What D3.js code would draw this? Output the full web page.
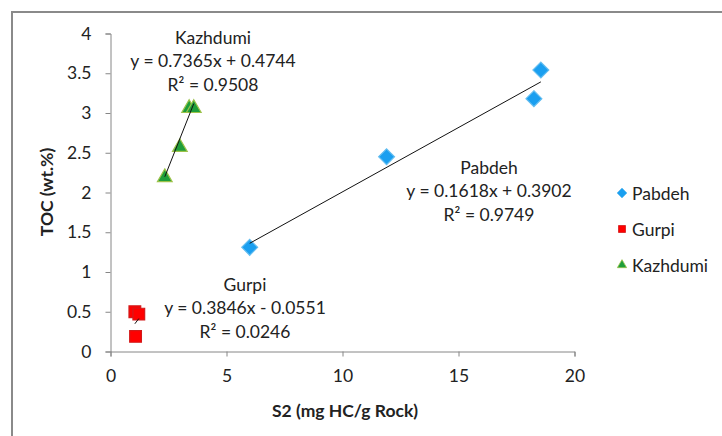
<!DOCTYPE html>
<html>
<head>
<meta charset="utf-8">
<script src="https://cdn.jsdelivr.net/npm/d3@7"></script>
<style>
  html, body { margin: 0; padding: 0; background: #fff; }
  svg text { font-family: Lato, "Open Sans", sans-serif; fill: #222; }
</style>
</head>
<body>
<svg id="chart" width="722" height="436"></svg>
<script>
// Sample values: S2 (mg HC/g Rock) vs TOC (wt.%)
const pabdehS2  = [6.0, 11.9, 18.25, 18.55];
const pabdehTOC = [1.31, 2.45, 3.18, 3.54];
const gurpiS2   = [1.05, 1.22, 1.08];
const gurpiTOC  = [0.50, 0.47, 0.19];
const kazhS2    = [2.34, 2.99, 3.39, 3.59];
const kazhTOC   = [2.19, 2.57, 3.06, 3.06];

// Linear trendlines: [slope, intercept, R²]
const pabdehFit = [0.1618, 0.3902, 0.9749];
const gurpiFit  = [0.3846, -0.0551, 0.0246];
const kazhFit   = [0.7365, 0.4744, 0.9508];

const xTicks = [0, 5, 10, 15, 20];
const yTicks = [0, 0.5, 1, 1.5, 2, 2.5, 3, 3.5, 4];
const seriesNames = ["Pabdeh", "Gurpi", "Kazhdumi"];

const svg = d3.select("#chart");
const x = d3.scaleLinear().domain([0, 20]).range([110.5, 574.5]);
const y = d3.scaleLinear().domain([0, 4]).range([351.5, 33.5]);
const fs = 17.5;

// outer chart frame (top and left edges visible)
svg.append("path")
  .attr("d", "M12,436 L12,12 L722,12")
  .attr("fill", "none").attr("stroke", "#8a8a8a").attr("stroke-width", 2);

const axisColor = "#868686";
const xAxis = svg.append("g").attr("transform", `translate(0,${y(0)})`)
  .call(d3.axisBottom(x).tickValues(xTicks).tickSize(5).tickPadding(13).tickFormat(d3.format("d")));
const yAxis = svg.append("g").attr("transform", `translate(${x(0)},0)`)
  .call(d3.axisLeft(y).tickValues(yTicks).tickSize(5).tickPadding(14).tickFormat(d => String(d)));
[xAxis, yAxis].forEach(g => {
  g.select(".domain").attr("stroke", axisColor);
  g.selectAll(".tick line").attr("stroke", axisColor);
  g.selectAll(".tick text").attr("font-size", fs).attr("fill", "#222")
    .style("font-family", "Lato, 'Open Sans', sans-serif");
});

// axis titles
svg.append("text").attr("x", 345).attr("y", 410).attr("text-anchor", "middle")
  .attr("dominant-baseline", "central").attr("font-size", fs).attr("font-weight", "bold")
  .text("S2 (mg HC/g Rock)");
svg.append("text").attr("transform", "translate(46,192) rotate(-90)").attr("text-anchor", "middle")
  .attr("dominant-baseline", "central").attr("font-size", fs).attr("font-weight", "bold")
  .text("TOC (wt.%)");

// trendlines across each series' S2 range
function trend(xs, fit) {
  const x0 = d3.min(xs), x1 = d3.max(xs);
  svg.append("line")
    .attr("x1", x(x0)).attr("y1", y(fit[0] * x0 + fit[1]))
    .attr("x2", x(x1)).attr("y2", y(fit[0] * x1 + fit[1]))
    .attr("stroke", "#111").attr("stroke-width", 1);
}

const styles = {
  Pabdeh:   { symbol: d3.symbolDiamond2, fill: "#1a9ff0", stroke: "#63bdf0" },
  Gurpi:    { symbol: d3.symbolSquare2,  fill: "#ff0000", stroke: "#d21a1a" },
  Kazhdumi: { symbol: d3.symbolTriangle2, fill: "#1e9e3a", stroke: "#9cc24a" }
};

function points(xs, ys, name, size) {
  const st = styles[name];
  svg.append("g").selectAll("path").data(xs.map((v, i) => [v, ys[i]])).join("path")
    .attr("transform", d => `translate(${x(d[0])},${y(d[1])})`)
    .attr("d", d3.symbol().type(st.symbol).size(size))
    .attr("fill", st.fill).attr("stroke", st.stroke).attr("stroke-width", 1.2);
}

points(gurpiS2, gurpiTOC, "Gurpi", 175);
trend(gurpiS2, gurpiFit);
points(kazhS2, kazhTOC, "Kazhdumi", 155);
trend(kazhS2, kazhFit);
points(pabdehS2, pabdehTOC, "Pabdeh", 160);
trend(pabdehS2, pabdehFit);

// trendline labels
function eqLabel(name, fit, cx, cy) {
  const sign = fit[1] < 0 ? "-" : "+";
  const lines = [name,
    `y = ${fit[0].toFixed(4)}x ${sign} ${Math.abs(fit[1]).toFixed(4)}`,
    `R² = ${fit[2].toFixed(4)}`];
  lines.forEach((t, i) => {
    svg.append("text").attr("x", cx).attr("y", cy + i * 23.5)
      .attr("text-anchor", "middle").attr("dominant-baseline", "central")
      .attr("font-size", fs).text(t);
  });
}
eqLabel("Kazhdumi", kazhFit, 213, 37);
eqLabel("Pabdeh", pabdehFit, 489, 167);
eqLabel("Gurpi", gurpiFit, 245, 284);

// legend
const legend = svg.append("g");
seriesNames.forEach((name, i) => {
  const st = styles[name];
  const ly = 193 + i * 36;
  legend.append("path").attr("transform", `translate(622,${ly})`)
    .attr("d", d3.symbol().type(st.symbol).size(62))
    .attr("fill", st.fill).attr("stroke", st.stroke).attr("stroke-width", 0.8);
  legend.append("text").attr("x", 632).attr("y", ly).attr("dominant-baseline", "central")
    .attr("font-size", fs).text(name);
});
</script>
</body>
</html>
